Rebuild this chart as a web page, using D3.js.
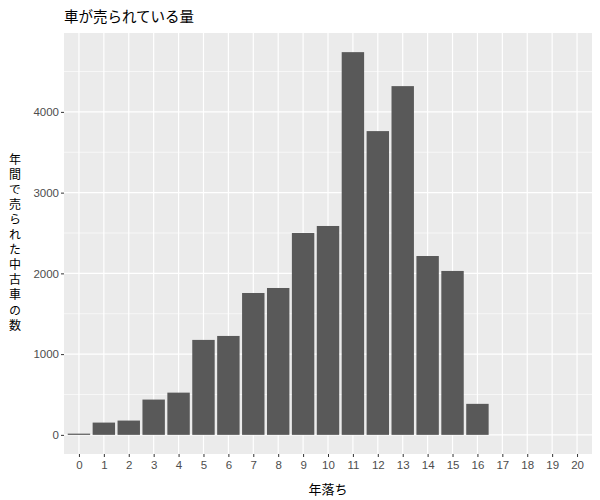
<!DOCTYPE html>
<html>
<head>
<meta charset="utf-8">
<script src="https://cdn.jsdelivr.net/npm/d3@7"></script>
<style>
  body { margin: 0; background: #fff; }
  svg { display: block; }
</style>
</head>
<body>
<script>
// 年落ち (0〜20年)
const years = d3.range(0, 21).map(String);
// 年間で売られた中古車の数
const counts = [15, 152, 177, 437, 523, 1176, 1225, 1757, 1819, 2500, 2587,
                4740, 3762, 4319, 2215, 2030, 384, 0, 0, 0, 0];
const yTicks = [0, 1000, 2000, 3000, 4000];
const yMinor = [500, 1500, 2500, 3500, 4500];

const titleText = "車が売られている量";
const xTitle = "年落ち";
const yTitle = ["年間で売られた中古車", " ", "の数"];

const width = 600,
    height = 500,
    padding = { top: 33, right: 8, bottom: 46, left: 64 };

const jp = "'Noto Sans CJK JP', 'Noto Sans', sans-serif";
const num = "'Liberation Sans', Arial, sans-serif";

const svg = d3.select("body")
    .append("svg")
    .attr("width", width)
    .attr("height", height);

const panelW = width - padding.left - padding.right,
    panelH = height - padding.top - padding.bottom;

// ggplot風の余白: 離散軸は0.6, 連続軸は5%
const xScale = d3.scalePoint()
    .domain(years)
    .range([padding.left, padding.left + panelW])
    .padding(0.6);
const barW = xScale.step() * 0.9;

const maxV = d3.max(counts);
const yScale = d3.scaleLinear()
    .domain([-0.05 * maxV, 1.05 * maxV])
    .range([padding.top + panelH, padding.top]);

// パネル背景
svg.append("rect")
    .attr("x", padding.left)
    .attr("y", padding.top)
    .attr("width", panelW)
    .attr("height", panelH)
    .attr("fill", "#EBEBEB");

const grid = svg.append("g").attr("stroke", "#fff");

grid.selectAll(".minor")
    .data(yMinor)
    .enter()
    .append("line")
    .attr("x1", padding.left)
    .attr("x2", padding.left + panelW)
    .attr("y1", d => yScale(d))
    .attr("y2", d => yScale(d))
    .attr("stroke-width", 0.6);

grid.selectAll(".ymajor")
    .data(yTicks)
    .enter()
    .append("line")
    .attr("x1", padding.left)
    .attr("x2", padding.left + panelW)
    .attr("y1", d => yScale(d))
    .attr("y2", d => yScale(d))
    .attr("stroke-width", 1.2);

grid.selectAll(".xmajor")
    .data(years)
    .enter()
    .append("line")
    .attr("x1", d => xScale(d))
    .attr("x2", d => xScale(d))
    .attr("y1", padding.top)
    .attr("y2", padding.top + panelH)
    .attr("stroke-width", 1.2);

// 棒
svg.append("g")
    .selectAll("rect")
    .data(years.map((y, i) => [y, counts[i]]).filter(d => d[1] > 0))
    .enter()
    .append("rect")
    .attr("x", d => xScale(d[0]) - barW / 2)
    .attr("width", barW)
    .attr("y", d => yScale(d[1]))
    .attr("height", d => yScale(0) - yScale(d[1]))
    .attr("fill", "#595959");

// 軸
const xAxis = d3.axisBottom(xScale).tickSize(3).tickPadding(4);
const yAxis = d3.axisLeft(yScale)
    .tickValues(yTicks)
    .tickFormat(d3.format("d"))
    .tickSize(3)
    .tickPadding(2);

const gx = svg.append("g")
    .attr("transform", "translate(0," + (padding.top + panelH) + ")")
    .call(xAxis);
const gy = svg.append("g")
    .attr("transform", "translate(" + padding.left + ",0)")
    .call(yAxis);

[gx, gy].forEach(g => {
    g.select(".domain").remove();
    g.selectAll(".tick line").attr("stroke", "#333").attr("stroke-width", 1);
    g.selectAll(".tick text")
        .attr("fill", "#4D4D4D")
        .style("font-family", num)
        .style("font-size", "11.5px");
});

// タイトル
svg.append("text")
    .attr("x", padding.left)
    .attr("y", 22)
    .style("font-family", jp)
    .style("font-size", "14.5px")
    .attr("fill", "#000")
    .text(titleText);

svg.append("text")
    .attr("x", padding.left + panelW / 2)
    .attr("y", 494)
    .attr("text-anchor", "middle")
    .style("font-family", jp)
    .style("font-size", "13px")
    .attr("fill", "#000")
    .text(xTitle);

// 縦書きのy軸タイトル
const yt = svg.append("text")
    .attr("x", 15)
    .attr("y", 153)
    .style("writing-mode", "vertical-rl")
    .style("text-orientation", "upright")
    .style("letter-spacing", "3px")
    .style("font-family", jp)
    .style("font-size", "12px")
    .attr("fill", "#000");
yt.selectAll("tspan")
    .data(yTitle)
    .enter()
    .append("tspan")
    .style("font-size", d => d === " " ? "1px" : null)
    .style("letter-spacing", d => d === " " ? "0px" : null)
    .text(d => d);
</script>
</body>
</html>
